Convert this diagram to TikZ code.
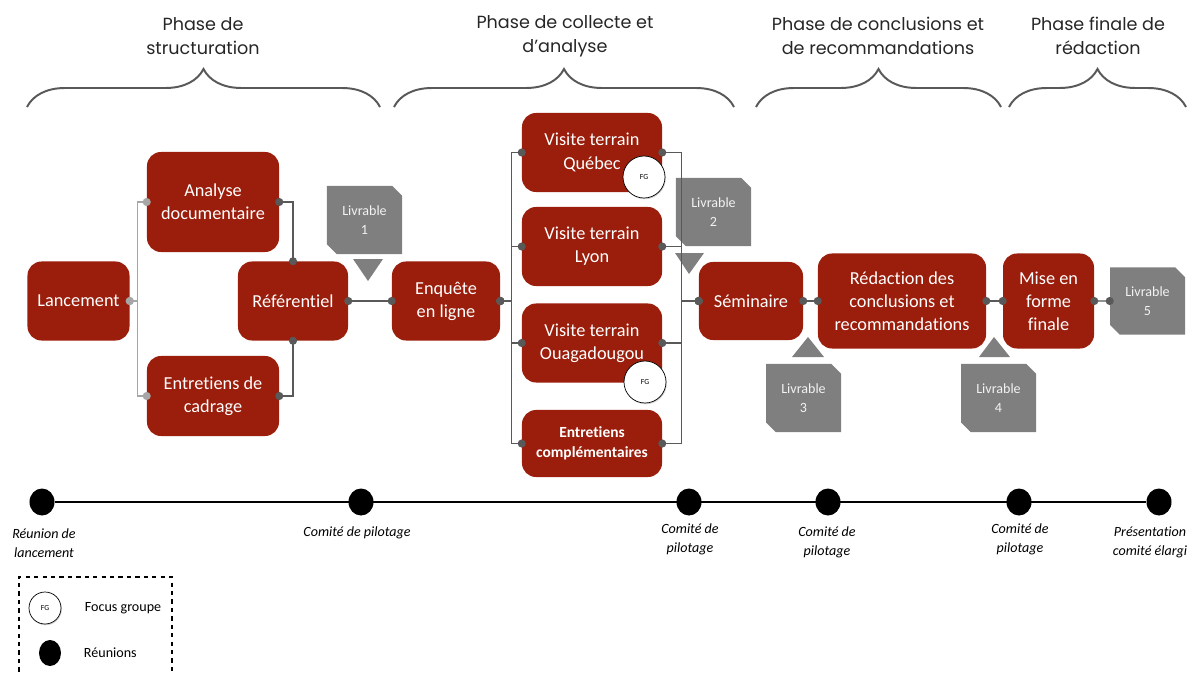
\documentclass[tikz,border=0pt]{standalone}
\usepackage{fontspec}
\setmainfont{Carlito}[Ligatures=NoCommon]
\newfontfamily\phasefont{Poppins}
\usetikzlibrary{arrows.meta,shapes.geometric,shapes.misc,shadows,decorations.pathreplacing}

\definecolor{boxred}{HTML}{9B1D0B}
\definecolor{livgray}{HTML}{7F7F7F}
\definecolor{linegray}{HTML}{595959}
\definecolor{lightline}{HTML}{A6A6A6}

\begin{document}
\begin{tikzpicture}[x=0.025cm, y=-0.025cm,
    base/.style = {rectangle, rounded corners=0.35cm, fill=boxred, text=white,
        align=center, inner sep=2pt, font=\fontsize{13}{16.5}\selectfont},
    activity/.style = {base, minimum width=3.5cm, minimum height=1.975cm},
    livrable/.style = {chamfered rectangle, chamfered rectangle corners={north east, south west},
        chamfered rectangle xsep=0.12cm, chamfered rectangle ysep=0.12cm,
        fill=livgray, text=white!95!black, minimum width=1.875cm, minimum height=1.7cm,
        align=center, inner sep=1pt, font=\fontsize{10}{13.5}\selectfont},
    fg/.style = {circle, draw=black, line width=0.5pt, fill=white, minimum size=1.05cm,
        inner sep=0pt, font=\fontsize{5.5}{6}\selectfont,
        drop shadow={opacity=0.35, shadow xshift=0.6pt, shadow yshift=-0.9pt}},
    meeting/.style = {ellipse, fill=black, minimum width=0.625cm, minimum height=0.675cm, inner sep=0pt},
    milestone/.style = {align=center, font=\fontsize{10}{13.5}\selectfont\itshape},
    phase/.style = {align=center, font=\phasefont\fontsize{12.5}{17}\selectfont, text=black!85},
    phasebrace/.style = {draw=linegray, line width=1.4pt, decorate,
        decoration={brace, amplitude=0.95cm}},
    link/.style = {draw=linegray, line width=1pt, {Circle[length=2mm]}-{Circle[length=2mm]},
        shorten <=-1mm, shorten >=-1mm},
    linklight/.style = {link, draw=lightline}
]
  \useasboundingbox (0,0) rectangle (1190,672);

  % phases
  \node (ph1) [phase] at (203,36) {Phase de\\structuration};
  \node (ph2) [phase] at (565,36) {Phase de collecte et\\d’analyse};
  \node (ph3) [phase] at (878,36) {Phase de conclusions et\\de recommandations};
  \node (ph4) [phase] at (1098,36) {Phase finale de\\rédaction};
  \draw[phasebrace] (27,107) -- (380,107);
  \draw[phasebrace] (394,107) -- (734,107);
  \draw[phasebrace] (756,107) -- (1001,107);
  \draw[phasebrace] (1009,107) -- (1186,107);

  % activities
  \node (lancement)   [activity, minimum width=2.55cm] at (78.5,301) {Lancement};
  \node (analyse)     [activity, minimum width=3.3cm, minimum height=2.5cm] at (213,202) {Analyse\\documentaire};
  \node (cadrage)     [activity, minimum width=3.3cm, minimum height=2cm] at (213,396) {Entretiens de\\cadrage};
  \node (referentiel) [activity, minimum width=2.75cm] at (293,301) {Référentiel};
  \node (enquete)     [activity, minimum width=2.7cm] at (446,301) {Enquête\\en ligne};
  \node (quebec)      [activity] at (592,152.5) {Visite terrain\\Québec};
  \node (lyon)        [activity] at (592,246.5) {Visite terrain\\Lyon};
  \node (ouaga)       [activity] at (592,343) {Visite terrain\\Ouagadougou};
  \node (complem)     [activity, minimum height=1.675cm, font=\bfseries\fontsize{11}{14}\selectfont] at (592,443.5) {Entretiens\\complémentaires};
  \node (seminaire)   [activity, minimum width=2.6cm, minimum height=1.95cm] at (751,301) {Séminaire};
  \node (redaction)   [activity, minimum width=4.2cm, minimum height=2.375cm] at (902,301) {Rédaction des\\conclusions et\\recommandations};
  \node (mise)        [activity, minimum width=2.275cm, minimum height=2.375cm] at (1048.5,301) {Mise en\\forme\\finale};

  % livrables
  \node (liv1) [livrable] at (364.5,220) {Livrable\\1};
  \node (liv2) [livrable] at (713.5,212) {Livrable\\2};
  \node (liv3) [livrable] at (803.5,398) {Livrable\\3};
  \node (liv4) [livrable] at (998.5,398) {Livrable\\4};
  \node (liv5) [livrable, minimum height=1.675cm] at (1147.5,301) {Livrable\\5};
  \fill[livgray] (353,259) -- (383,259) -- (368,281) -- cycle;
  \fill[livgray] (675,253) -- (704,253) -- (689,274) -- cycle;
  \fill[livgray] (792,357) -- (824,357) -- (808,337) -- cycle;
  \fill[livgray] (979,357) -- (1010,357) -- (994,337) -- cycle;

  % links
  \draw[linklight] (lancement.east) -- ++(8,0) |- (analyse.west);
  \draw[linklight] (lancement.east) -- ++(8,0) |- (cadrage.west);
  \draw[link] (analyse.east) -| (referentiel.north);
  \draw[link] (cadrage.east) -| (referentiel.south);
  \draw[link] (referentiel) -- (enquete);
  \foreach \v in {quebec, lyon, ouaga, complem}{
    \draw[link] (enquete.east) -- ++(11,0) |- (\v.west);
    \draw[link] (\v.east) -- ++(19,0) |- (seminaire.west);
  }
  \draw[link] (seminaire) -- (redaction);
  \draw[link] (redaction) -- (mise);
  \draw[link] (mise) -- (liv5);

  \node (fg1) [fg] at (644,177) {FG};
  \node (fg2) [fg] at (645,382) {FG};

  % timeline
  \foreach \n/\x in {1/42, 2/361, 3/689, 4/828, 5/1019, 6/1159}
    \node (t\n) [meeting] at (\x,502) {};
  \draw[line width=1pt] (t1) -- (t6);
  \node (m1) [milestone] at (44,543.5) {Réunion de\\lancement};
  \node (m2) [milestone] at (357,533) {Comité de pilotage};
  \node (m3) [milestone] at (690,539.5) {Comité de\\pilotage};
  \node (m4) [milestone] at (827,542.5) {Comité de\\pilotage};
  \node (m5) [milestone] at (1020,539.5) {Comité de\\pilotage};
  \node (m6) [milestone] at (1150,542.5) {Présentation\\comité élargi};

  % legend
  \draw[dashed, line width=0.8pt] (19,680) |- (172,577) -- (172,680);
  \node (lgfg)  [fg, minimum size=0.8cm] at (45,608) {FG};
  \node (lgfgt) [anchor=west, font=\fontsize{10}{12}\selectfont] at (80,608) {Focus groupe};
  \node (lgdot) [meeting, minimum width=0.55cm, minimum height=0.65cm] at (50,653) {};
  \node (lgdott)[anchor=west, font=\fontsize{10}{12}\selectfont] at (79,653) {Réunions};
\end{tikzpicture}
\end{document}
